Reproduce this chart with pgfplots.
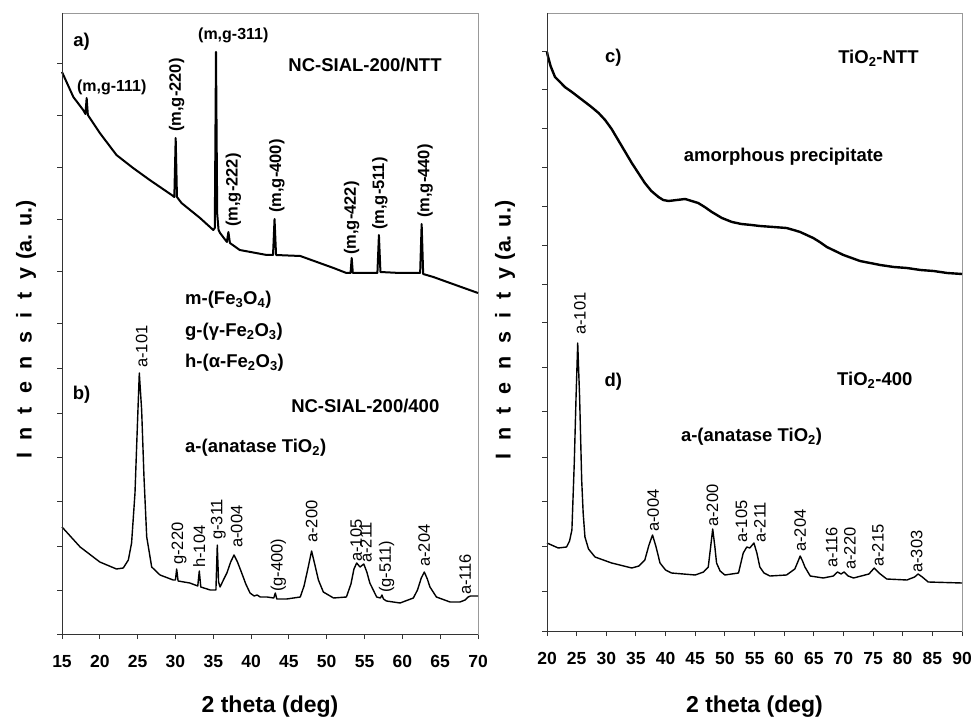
\documentclass[border=0pt]{standalone}
\usepackage{fontspec}
\setmainfont{Liberation Sans}
\usepackage{pgfplots}
\pgfplotsset{compat=1.18}

% font helpers
\newcommand\fs[1]{\fontsize{#1}{#1}\selectfont}
\newcommand\sub[1]{\textsubscript{#1}}

\pgfplotsset{
  xrdframe/.style={
    scale only axis, anchor=south west,
    axis line style={black!40, line width=0.9pt},
    tick style={black!80, line width=0.9pt},
    major tick length=5pt,
    tick align=outside, tick pos=left,
    yticklabels={},
    /pgf/number format/assume math mode=true,
    xticklabel style={font=\fs{17.5}\bfseries, yshift=-13pt},
    xlabel style={font=\fs{23}\bfseries},
    ylabel style={font=\fs{21.5}\bfseries},
    clip=false,
    % darker left and bottom spines
    after end axis/.code={
      \draw[black!80, line width=0.9pt] (rel axis cs:0,1) -- (rel axis cs:0,0) -- (rel axis cs:1,0);
    },
  },
}
\tikzset{
  peakB/.style={rotate=90, anchor=west, inner sep=0pt, font=\fs{16.5}\bfseries},
  peakR/.style={rotate=90, anchor=west, inner sep=0pt, font=\fs{16.5}},
  panel/.style={inner sep=0pt, font=\fs{18.5}\bfseries},
}

\newcommand\intensity{I\hspace{0.6em}n\hspace{0.6em}t\hspace{0.6em}e\hspace{0.6em}n\hspace{0.6em}s\hspace{0.6em}i\hspace{0.6em}t\hspace{0.6em}y\hspace{0.35em}(a. u.)}

\begin{document}
\begin{tikzpicture}
\useasboundingbox (0pt,0pt) rectangle (974pt,718pt);

% ---------- left panel: NC-SIAL-200 samples ----------
\begin{axis}[xrdframe,
  at={(62pt,84pt)}, width=416pt, height=621pt,
  xmin=15, xmax=70, ymin=0, ymax=621,
  xtick={15,20,...,70},
  ytick={0,44,88,133,177,221,266,311,363,415,467,519,571},
  xlabel={2 theta (deg)},
  xlabel style={at={(axis description cs:0.5,0)}, anchor=center, yshift=-73pt},
  ylabel={\intensity},
  ylabel style={at={(axis description cs:-0.0865,0.49)}, anchor=center},
]
% a) NC-SIAL-200/NTT
\addplot[black, line width=2pt, line join=round] coordinates {
(15,562) (16.5,537) (17.8,524) (18.1,520) (18.26,536) (18.42,519)
(20.0,501) (22.2,479) (24.4,466) (26.6,454) (29.5,439) (29.85,437)
(30.03,496) (30.2,437) (30.8,431) (33.25,416) (35.0,404) (35.2,406)
(35.36,582) (35.52,420) (35.7,404) (35.9,401) (36.8,392) (37.0,402)
(37.2,391) (38.5,384) (42.07,379) (42.9,379) (43.1,415) (43.3,379)
(46.5,378) (48.7,372) (50.9,366) (52.6,361) (53.15,361) (53.3,376)
(53.45,361) (55.3,361) (56.7,361) (56.9,399) (57.1,362) (59.7,361)
(61.9,361) (62.35,361) (62.55,410) (62.75,360) (64.1,357) (66.3,351)
(70,341)
};
% b) NC-SIAL-200/400
\addplot[black, line width=1.4pt, line join=round] coordinates {
(15,107) (17.4,87) (20.0,72) (22.2,65) (23.1,66) (23.77,74) (24.2,91)
(24.65,141) (24.96,207) (25.22,261) (25.53,224) (25.84,157) (26.2,97)
(26.86,67) (27.96,59) (29.7,54) (30.0,54) (30.16,65) (30.35,53)
(31.9,51) (32.95,48) (33.15,63) (33.35,47) (34.6,44) (35.35,44)
(35.53,89) (35.7,52) (35.9,47) (36.4,55) (36.8,61) (37.3,72) (37.74,79)
(38.2,72) (38.76,61) (39.3,50) (39.86,41) (40.4,38) (40.8,39)
(41.2,37) (42.1,37) (43.0,36) (43.2,41) (43.4,35) (44.7,35) (46.5,37)
(47.0,48) (47.5,65) (48.0,83) (48.5,67) (48.9,54) (49.55,42) (50.9,36)
(52.6,37) (53.2,50) (53.6,65) (53.96,71) (54.4,67) (54.9,70) (55.3,62)
(55.7,51) (56.6,37) (57.1,36) (57.3,39) (57.5,35) (57.9,33) (59.7,31)
(61.45,36) (62.0,44) (62.5,56) (62.9,62) (63.3,55) (63.65,47)
(64.5,37) (66.3,32) (67.6,32) (68.3,34) (68.7,37) (69.0,38) (70,38)
};

% labels of a)
\node[panel] at (axis cs:17.6,592) {a)};
\node[panel] at (axis cs:55.06,569) {NC-SIAL-200/NTT};
\node[inner sep=0pt, font=\fs{16}\bfseries] at (axis cs:37.65,599) {(m,g-311)};
\node[inner sep=0pt, font=\fs{16}\bfseries] at (axis cs:21.57,547) {(m,g-111)};
\node[peakB] at (axis cs:30.16,502) {(m,g-220)};
\node[peakB] at (axis cs:37.65,407) {(m,g-222)};
\node[peakB] at (axis cs:43.4,421) {(m,g-400)};
\node[peakB] at (axis cs:53.3,379) {(m,g-422)};
\node[peakB] at (axis cs:57.04,404) {(m,g-511)};
\node[peakB] at (axis cs:63.0,416) {(m,g-440)};
% phase key
\node[panel, anchor=west] at (axis cs:31.26,334) {m-(Fe\sub{3}O\sub{4})};
\node[panel, anchor=west] at (axis cs:31.26,302) {g-(γ-Fe\sub{2}O\sub{3})};
\node[panel, anchor=west] at (axis cs:31.26,271) {h-(α-Fe\sub{2}O\sub{3})};
% labels of b)
\node[panel] at (axis cs:17.6,239) {b)};
\node[panel] at (axis cs:55.1,228) {NC-SIAL-200/400};
\node[panel, anchor=west] at (axis cs:31.26,186) {a-(anatase TiO\sub{2})};
\node[peakR] at (axis cs:25.53,266) {a-101};
\node[peakR] at (axis cs:30.47,69) {g-220};
\node[peakR] at (axis cs:33.15,66) {h-104};
\node[peakR] at (axis cs:35.67,94) {g-311};
\node[peakR] at (axis cs:38.1,86) {a-004};
\node[peakR] at (axis cs:43.6,42) {(g-400)};
\node[peakR] at (axis cs:48.0,91) {a-200};
\node[peakR] at (axis cs:53.9,72) {a-105};
\node[peakR] at (axis cs:55.2,71) {a-211};
\node[peakR] at (axis cs:57.9,41) {(g-511)};
\node[peakR] at (axis cs:62.9,67) {a-204};
\node[peakR] at (axis cs:68.3,39) {a-116};
\end{axis}

% ---------- right panel: TiO2 samples ----------
\begin{axis}[xrdframe,
  at={(547pt,87pt)}, width=415pt, height=618pt,
  xmin=20, xmax=90, ymin=0, ymax=618,
  xtick={20,25,...,90},
  ytick={0,40,85,130,174,220,264,309,347,386,425,464,503,542,580},
  xlabel={2 theta (deg)},
  xlabel style={at={(axis description cs:0.5,0)}, anchor=center, yshift=-76pt},
  ylabel={\intensity},
  ylabel style={at={(axis description cs:-0.101,0.487)}, anchor=center},
]
% c) TiO2-NTT
\addplot[black, line width=2.4pt, line join=round] coordinates {
(20,579) (20.1,576) (20.6,565) (21.35,554) (22.2,549) (23.0,544)
(24.2,539) (25.3,534) (26.4,529) (27.5,524) (28.7,518) (29.8,511)
(30.9,502) (32.0,491) (33.2,479) (34.3,468) (35.4,458) (36.5,448)
(37.6,440) (38.8,434) (39.6,431) (40.5,430) (41.9,431) (43.3,432)
(44.4,430) (45.5,428) (46.6,424) (47.8,419) (49.5,413) (51.2,409)
(52.8,407) (54.5,406) (55.9,405) (58.2,404) (60.4,403) (61.6,401)
(62.7,399) (63.8,396) (64.9,393) (66.0,389) (67.2,384) (68.6,380)
(70.0,376) (71.4,373) (72.8,370) (74.5,368) (76.2,366) (78.5,364)
(80.7,363) (83.0,361) (85.2,360) (87.5,358) (90,357)
};
% d) TiO2-400
\addplot[black, line width=1.4pt, line join=round] coordinates {
(20,88) (21.9,83) (23.3,84) (23.8,90) (24.2,101) (24.6,168) (24.9,234)
(25.18,288) (25.5,234) (25.85,151) (26.1,118) (26.4,94) (27.0,82)
(28.1,74) (30.9,68) (34.3,63) (35.5,65) (36.5,71) (37.2,86) (37.8,96)
(38.4,84) (39.06,68) (40.0,61) (41.0,58) (45.0,56) (46.4,59) (47.2,64)
(47.6,84) (47.95,102) (48.3,85) (48.6,68) (49.2,60) (50.0,56)
(52.3,58) (53.1,78) (53.7,84) (54.2,83) (54.9,88) (55.4,78) (55.9,64)
(56.6,58) (57.6,55) (60.4,56) (61.8,62) (62.3,69) (62.7,75) (63.1,70)
(63.5,64) (64.4,55) (66.6,53) (68.3,55) (69.0,59) (69.6,57) (70.1,59)
(70.8,55) (71.7,53) (74.3,57) (75.2,63) (76.0,58) (77.3,52) (80.7,51)
(82.0,54) (82.6,57) (83.3,54) (84.3,49) (90,48)
};

\node[panel] at (axis cs:31.2,573) {c)};
\node[panel] at (axis cs:75.9,573) {TiO\sub{2}-NTT};
\node[panel] at (axis cs:59.9,474) {amorphous precipitate};
\node[panel] at (axis cs:31.2,249) {d)};
\node[panel] at (axis cs:75.3,251) {TiO\sub{2}-400};
\node[panel] at (axis cs:54.5,194) {a-(anatase TiO\sub{2})};
\node[peakR] at (axis cs:25.57,296) {a-101};
\node[peakR] at (axis cs:37.9,99) {a-004};
\node[peakR] at (axis cs:47.9,104) {a-200};
\node[peakR] at (axis cs:52.8,88) {a-105};
\node[peakR] at (axis cs:55.9,88) {a-211};
\node[peakR] at (axis cs:62.7,79) {a-204};
\node[peakR] at (axis cs:68.0,63) {a-116};
\node[peakR] at (axis cs:71.1,61) {a-220};
\node[peakR] at (axis cs:75.8,64) {a-215};
\node[peakR] at (axis cs:82.35,58) {a-303};
\end{axis}
\end{tikzpicture}
\end{document}
